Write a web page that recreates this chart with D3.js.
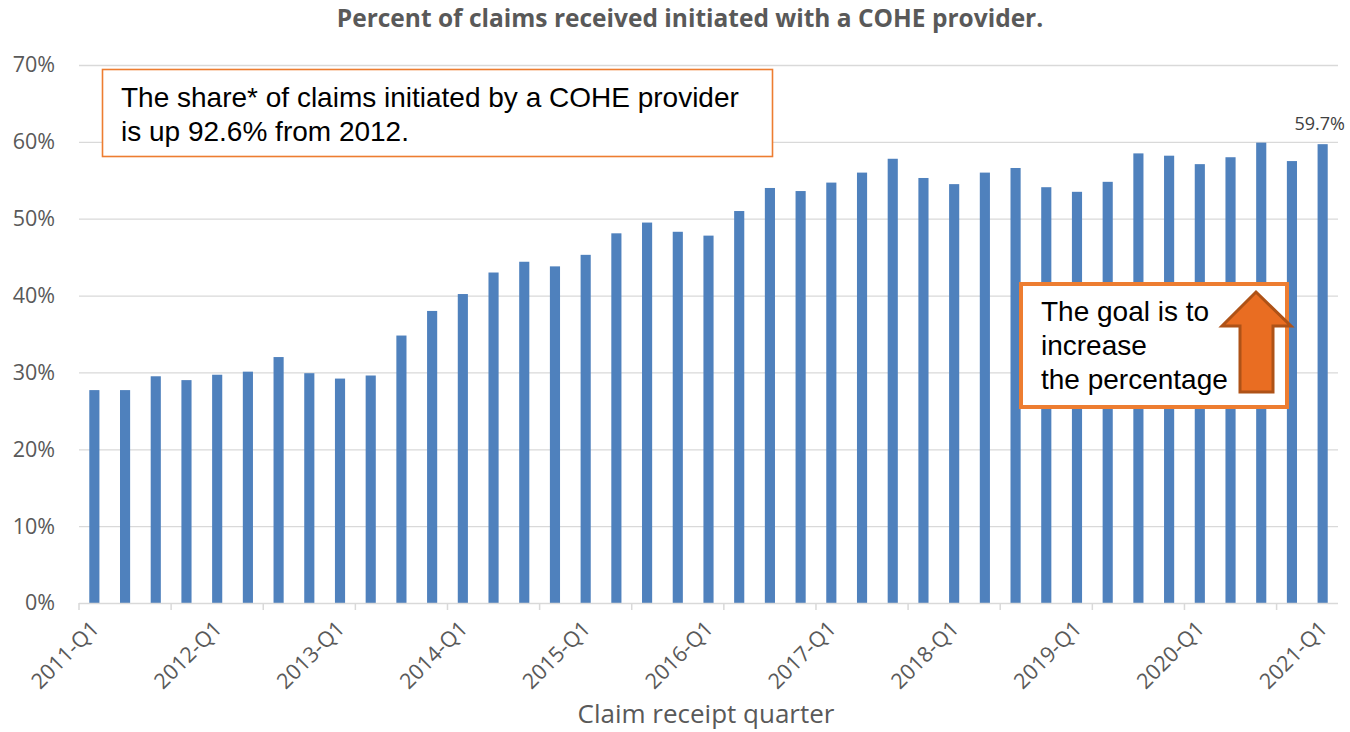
<!DOCTYPE html>
<html>
<head>
<meta charset="utf-8">
<script src="https://cdn.jsdelivr.net/npm/d3@7"></script>
<style>
  html, body { margin: 0; padding: 0; background: #fff; }
  svg { display: block; }
</style>
</head>
<body>
<svg id="chart" width="1350" height="732"></svg>
<script>
// data
const quarters = [
  "2011-Q1","2011-Q2","2011-Q3","2011-Q4",
  "2012-Q1","2012-Q2","2012-Q3","2012-Q4",
  "2013-Q1","2013-Q2","2013-Q3","2013-Q4",
  "2014-Q1","2014-Q2","2014-Q3","2014-Q4",
  "2015-Q1","2015-Q2","2015-Q3","2015-Q4",
  "2016-Q1","2016-Q2","2016-Q3","2016-Q4",
  "2017-Q1","2017-Q2","2017-Q3","2017-Q4",
  "2018-Q1","2018-Q2","2018-Q3","2018-Q4",
  "2019-Q1","2019-Q2","2019-Q3","2019-Q4",
  "2020-Q1","2020-Q2","2020-Q3","2020-Q4",
  "2021-Q1"
]
const sharePct = [
  27.7, 27.7, 29.5, 29.0,
  29.7, 30.1, 32.0, 29.9,
  29.2, 29.6, 34.8, 38.0,
  40.2, 43.0, 44.4, 43.8,
  45.3, 48.1, 49.5, 48.3,
  47.8, 51.0, 54.0, 53.6,
  54.7, 56.0, 57.8, 55.3,
  54.5, 56.0, 56.6, 54.1,
  53.5, 54.8, 58.5, 58.2,
  57.1, 58.0, 59.9, 57.5,
  59.7
]
const yTicks = [0, 10, 20, 30, 40, 50, 60, 70]
const xLabelQuarters = quarters.filter((q, i) => i % 4 === 0)
const lastLabel = "59.7%"

const titleText = "Percent of claims received initiated with a COHE provider."
const axisTitle = "Claim receipt quarter"
const note1 = ["The share* of claims initiated by a COHE provider", "is up 92.6% from 2012."]
const note2 = ["The goal is to", "increase", "the percentage"]

const svg = d3.select("#chart")
const plotLeft = 79, plotRight = 1338, plotTop = 65, plotBottom = 603
const gray = "#595959"
const barColor = "#4F81BD"
const orange = "#ED7D31"

const x = d3.scaleBand().domain(quarters).range([plotLeft, plotRight]).paddingInner(0.67).paddingOuter(0.335)
const y = d3.scaleLinear().domain([0, 70]).range([plotBottom, plotTop])

// title
svg.append("text")
  .attr("x", 690).attr("y", 27)
  .attr("text-anchor", "middle")
  .style("font-family", "'Open Sans', sans-serif")
  .style("font-weight", "700")
  .style("font-size", "24.5px")
  .style("fill", gray)
  .text(titleText)

// gridlines
svg.append("g").selectAll("line")
  .data(yTicks.filter(d => d > 0))
  .enter().append("line")
  .attr("x1", plotLeft).attr("x2", plotRight)
  .attr("y1", d => y(d) + 0.5).attr("y2", d => y(d) + 0.5)
  .style("stroke", "#D9D9D9").style("stroke-width", 1.3)

// y axis labels
const yAxis = d3.axisLeft(y).tickValues(yTicks).tickFormat(d => d + "%").tickSize(0).tickPadding(24)
const gy = svg.append("g").attr("transform", `translate(${plotLeft},0)`).call(yAxis)
gy.select(".domain").remove()
gy.selectAll("text")
  .style("font-family", "'Open Sans', sans-serif")
  .style("font-size", "21.5px")
  .style("fill", gray)

// bars
svg.append("g").selectAll("rect")
  .data(sharePct)
  .enter().append("rect")
  .attr("x", (d, i) => x(quarters[i]))
  .attr("width", x.bandwidth())
  .attr("y", d => y(d))
  .attr("height", d => y(0) - y(d))
  .style("fill", barColor)

// x axis line + ticks every 3 quarters
const step = x.step()
svg.append("line")
  .attr("x1", plotLeft).attr("x2", plotRight)
  .attr("y1", plotBottom + 0.5).attr("y2", plotBottom + 0.5)
  .style("stroke", "#D9D9D9").style("stroke-width", 1.5)
svg.append("g").selectAll("line")
  .data(d3.range(0, quarters.length, 3))
  .enter().append("line")
  .attr("x1", d => plotLeft + d * step).attr("x2", d => plotLeft + d * step)
  .attr("y1", plotBottom).attr("y2", plotBottom + 7)
  .style("stroke", "#D9D9D9").style("stroke-width", 1.5)

// x labels rotated
svg.append("g").selectAll("text")
  .data(xLabelQuarters)
  .enter().append("text")
  .attr("transform", d => `translate(${x(d) + x.bandwidth() / 2 + 6},630) rotate(-45)`)
  .attr("text-anchor", "end")
  .style("font-family", "'Open Sans', sans-serif")
  .style("font-size", "21.5px")
  .style("fill", gray)
  .text(d => d)

// axis title
svg.append("text")
  .attr("x", 706).attr("y", 723)
  .attr("text-anchor", "middle")
  .style("font-family", "'Open Sans', sans-serif")
  .style("font-size", "26px")
  .style("fill", gray)
  .text(axisTitle)

// data label on last bar
const lastQ = quarters[quarters.length - 1]
svg.append("text")
  .attr("x", x(lastQ) + x.bandwidth() / 2 - 3)
  .attr("y", y(sharePct[sharePct.length - 1]) - 14)
  .attr("text-anchor", "middle")
  .style("font-family", "'Open Sans', sans-serif")
  .style("font-size", "18px")
  .style("fill", "#404040")
  .text(lastLabel)

// note box 1
svg.append("rect")
  .attr("x", 102.5).attr("y", 69.5).attr("width", 670).attr("height", 87)
  .style("fill", "#fff").style("stroke", orange).style("stroke-width", 1.6)
svg.append("g").selectAll("text")
  .data(note1)
  .enter().append("text")
  .attr("x", 121).attr("y", (d, i) => 107 + i * 33.5)
  .style("font-family", "'Liberation Sans', Arial, sans-serif")
  .style("font-size", "28px")
  .style("fill", "#000")
  .text(d => d)

// note box 2 with arrow
svg.append("rect")
  .attr("x", 1021).attr("y", 284).attr("width", 266).attr("height", 123)
  .style("fill", "#fff").style("stroke", orange).style("stroke-width", 4)
svg.append("g").selectAll("text")
  .data(note2)
  .enter().append("text")
  .attr("x", 1041).attr("y", (d, i) => 321 + i * 34)
  .style("font-family", "'Liberation Sans', Arial, sans-serif")
  .style("font-size", "28px")
  .style("fill", "#000")
  .text(d => d)

const arrow = d3.path()
arrow.moveTo(1256, 292)
arrow.lineTo(1291, 326)
arrow.lineTo(1273, 326)
arrow.lineTo(1273, 392)
arrow.lineTo(1240, 392)
arrow.lineTo(1240, 326)
arrow.lineTo(1222, 326)
arrow.closePath()
svg.append("path")
  .attr("d", arrow.toString())
  .style("fill", "#E96D22")
  .style("stroke", "#AE5217")
  .style("stroke-width", 3)
  .style("stroke-linejoin", "miter")
</script>
</body>
</html>
